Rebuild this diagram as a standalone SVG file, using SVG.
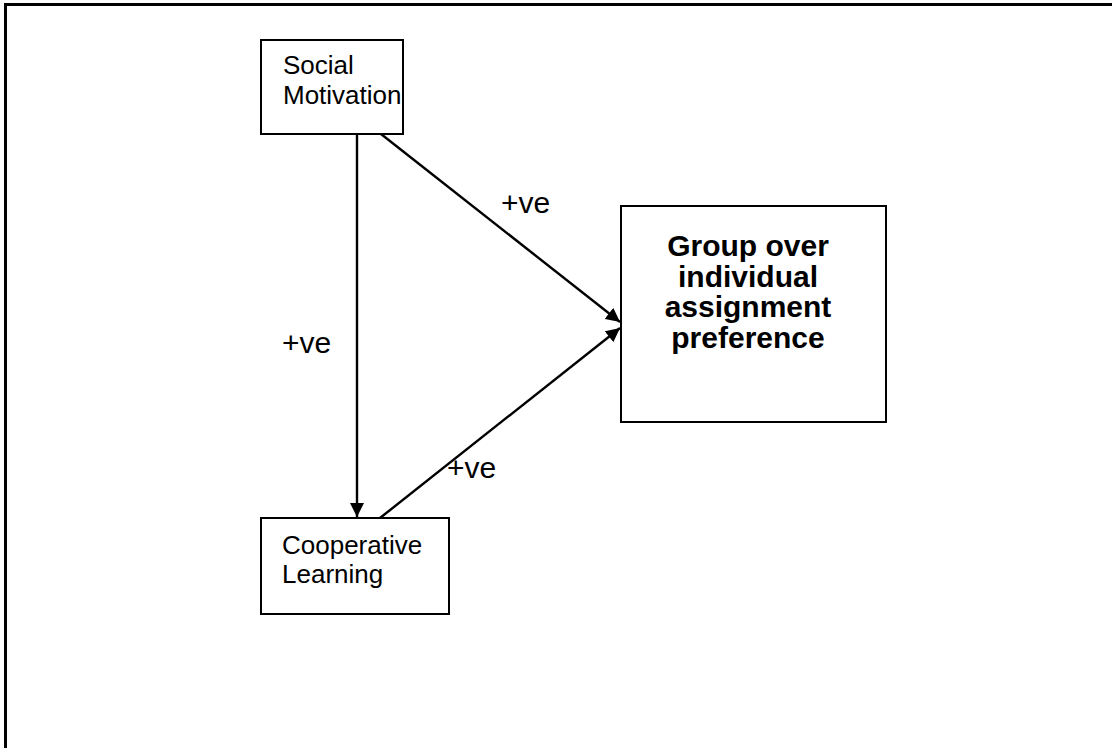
<svg xmlns="http://www.w3.org/2000/svg" width="1112" height="748" viewBox="0 0 1112 748">
  <style>
    .box { fill: #ffffff; stroke: #000000; stroke-width: 2; }
    .lbl { font-family: "Liberation Sans", Arial, sans-serif; font-size: 26px; fill: #000000; }
    .sign { font-family: "Liberation Sans", Arial, sans-serif; font-size: 30px; fill: #000000; }
    .bold { font-family: "Liberation Sans", Arial, sans-serif; font-size: 30px; font-weight: bold; fill: #000000; }
    .conn { stroke: #000000; stroke-width: 2.4; fill: none; }
  </style>
  <defs>
    <marker id="arrow" viewBox="0 0 14 14" refX="14" refY="7" markerWidth="14" markerHeight="14" markerUnits="userSpaceOnUse" orient="auto">
      <path d="M0,0 L14,7 L0,14 Z" fill="#000000"/>
    </marker>
  </defs>
  <rect width="1112" height="748" fill="#ffffff"/>
  <path d="M5.5,760 L5.5,4.5 L1120,4.5" fill="none" stroke="#000000" stroke-width="3"/>

  <g id="connectors">
    <line class="conn" x1="357" y1="134" x2="357" y2="517" marker-end="url(#arrow)"/>
    <line class="conn" x1="381" y1="134" x2="620" y2="322" marker-end="url(#arrow)"/>
    <line class="conn" x1="380" y1="518" x2="620" y2="328" marker-end="url(#arrow)"/>
    <text class="sign" x="501" y="213">+ve</text>
    <text class="sign" x="282" y="353">+ve</text>
    <text class="sign" x="447" y="478">+ve</text>
  </g>

  <g id="social-motivation">
    <rect class="box" x="261" y="40" width="142" height="94"/>
    <text class="lbl" x="283" y="74">Social</text>
    <text class="lbl" x="283" y="104">Motivation</text>
  </g>

  <g id="cooperative-learning">
    <rect class="box" x="261" y="518" width="188" height="96"/>
    <text class="lbl" x="282" y="554">Cooperative</text>
    <text class="lbl" x="282" y="583">Learning</text>
  </g>

  <g id="group-preference">
    <rect class="box" x="621" y="206" width="265" height="216"/>
    <text class="bold" x="748" y="256" text-anchor="middle">Group over</text>
    <text class="bold" x="748" y="286.5" text-anchor="middle">individual</text>
    <text class="bold" x="748" y="317" text-anchor="middle">assignment</text>
    <text class="bold" x="748" y="347.5" text-anchor="middle">preference</text>
  </g>
</svg>
